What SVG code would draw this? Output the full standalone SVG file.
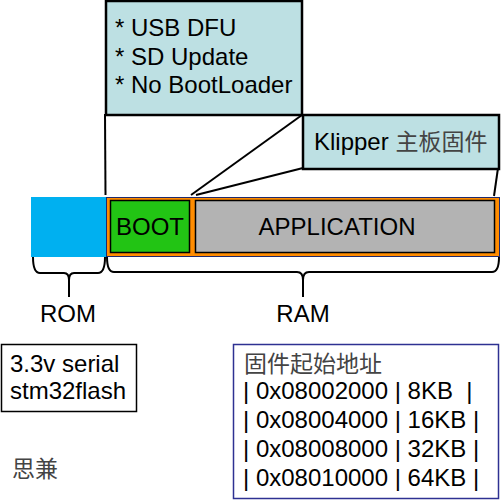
<svg xmlns="http://www.w3.org/2000/svg" width="501" height="500" viewBox="0 0 501 500">
<style>
text{font-family:"Liberation Sans",Arial,"Noto Sans CJK SC",sans-serif;font-size:24px;fill:#000}
.cjk{font-family:"Noto Sans CJK SC",sans-serif;fill:#444;font-size:23px}
.note{fill:#bde0e3;stroke:#000;stroke-width:2.5}
.ln{fill:none;stroke:#000;stroke-width:2}
</style>
<rect width="501" height="500" fill="#fff"/>
<g id="connectors">
<path class="ln" d="M105,114 L105.5,195"/>
<path class="ln" d="M302,115 L191,195"/>
<path class="ln" d="M303,168 L196,195"/>
<path class="ln" d="M498,168 L494,196"/>
</g>
<g id="rom">
<rect x="31" y="197" width="75" height="60" fill="#00b0f0"/>
</g>
<g id="ram">
<rect x="106.5" y="197.5" width="393" height="59" fill="#ff8c00" stroke="#1f2a6e" stroke-width="1"/>
</g>
<g id="boot">
<rect x="110.5" y="200.5" width="79" height="52" fill="#22c414" stroke="#000" stroke-width="1.5"/>
<text x="150" y="235" text-anchor="middle">BOOT</text>
</g>
<g id="application">
<rect x="195.5" y="200.5" width="299" height="52" fill="#b3b3b3" stroke="#000" stroke-width="1.5"/>
<text x="337" y="235" text-anchor="middle">APPLICATION</text>
</g>
<g id="rom-brace">
<path class="ln" d="M33,257 Q33,273 40,273 L64,273 Q69,273 69,280 L69,297 M69,280 Q69,273 74,273 L98,273 Q105,273 105,257"/>
<text x="68" y="322" text-anchor="middle">ROM</text>
</g>
<g id="ram-brace">
<path class="ln" d="M107,257 Q107,272 114,272 L297,272 Q303,272 303,280 L303,297 M303,280 Q303,272 309,272 L492,272 Q499,272 499,257"/>
<text x="303" y="322" text-anchor="middle">RAM</text>
</g>
<g id="bootloader-note">
<rect class="note" x="106" y="1" width="196" height="114"/>
<text x="115" y="36">* USB DFU</text>
<text x="115" y="65">* SD Update</text>
<text x="115" y="93">* No BootLoader</text>
</g>
<g id="klipper-note">
<rect class="note" x="303" y="115" width="196" height="54"/>
<text x="314" y="150">Klipper <tspan class="cjk">主板固件</tspan></text>
</g>
<g id="serial">
<rect x="1.5" y="344.5" width="135" height="67" fill="#fff" stroke="#000" stroke-width="1.5"/>
<text x="10" y="372">3.3v serial</text>
<text x="10" y="399">stm32flash</text>
</g>
<g id="author">
<text class="cjk" x="12" y="477">思兼</text>
</g>
<g id="addresses">
<rect x="233.5" y="344.5" width="265" height="154" fill="#fff" stroke="#2e3192" stroke-width="1.5"/>
<text class="cjk" x="244" y="372">固件起始地址</text>
<text x="243" y="399" xml:space="preserve">| 0x08002000 | 8KB  |</text>
<text x="243" y="428">| 0x08004000 | 16KB |</text>
<text x="243" y="457">| 0x08008000 | 32KB |</text>
<text x="243" y="486">| 0x08010000 | 64KB |</text>
</g>
</svg>
